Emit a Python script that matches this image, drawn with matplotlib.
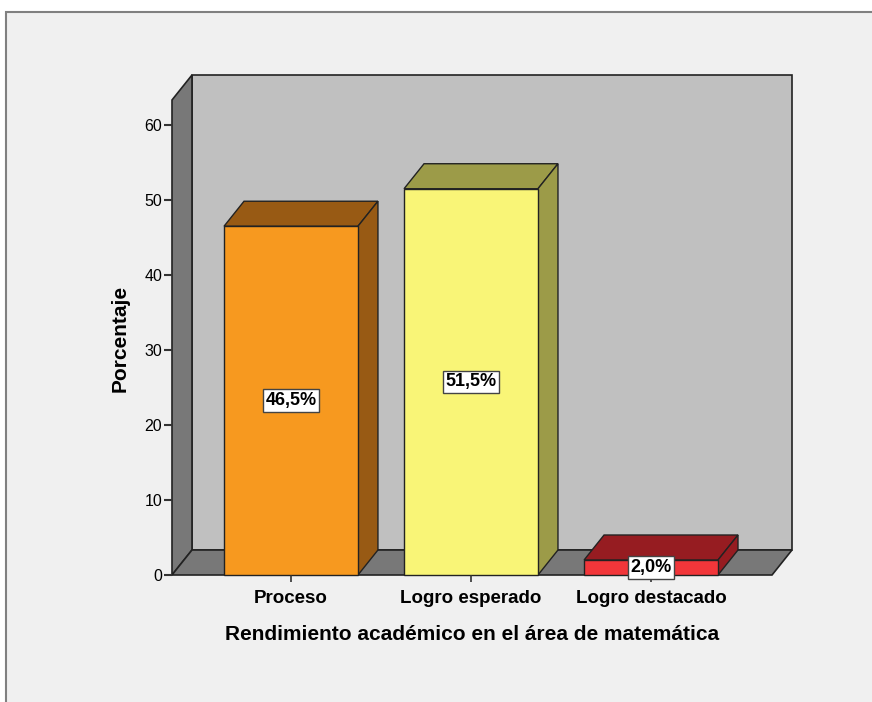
import matplotlib
matplotlib.use('Agg')
import matplotlib.pyplot as plt
from matplotlib.patches import Polygon, Rectangle

plt.rcParams['font.family'] = ['Liberation Sans', 'DejaVu Sans']

# data
categories = ['Proceso', 'Logro esperado', 'Logro destacado']
percentages = [46.5, 51.5, 2.0]
value_labels = ['46,5%', '51,5%', '2,0%']
front_colors = ['#f7991f', '#f9f577', '#f2363a']
side_colors = ['#985a14', '#9c9b48', '#961c21']
y_ticks = [0, 10, 20, 30, 40, 50, 60]

# 3d look (data units)
bar_w = 0.744
dx = 0.111
dy = 3.333
ymax = 63.33
x0, x1 = -0.661, 2.672
edge = '#222222'

fig = plt.figure(figsize=(8.72, 7.02), dpi=100)
fig.patch.set_facecolor('white')
frame = Rectangle((6 / 872, -0.05), 1.1, (702 - 12) / 702 + 0.05,
                  transform=fig.transFigure, facecolor='#f0f0f0',
                  edgecolor='#808080', linewidth=1.5, zorder=-10)
fig.add_artist(frame)

ax = fig.add_axes([172 / 872, (702 - 575) / 702, (792 - 172) / 872, (575 - 75) / 702])
ax.set_xlim(x0, x1 + dx)
ax.set_ylim(0, ymax + dy)
ax.patch.set_visible(False)
for s in ax.spines.values():
    s.set_visible(False)

# walls
back = Polygon([(x0 + dx, dy), (x1 + dx, dy), (x1 + dx, ymax + dy), (x0 + dx, ymax + dy)],
               facecolor='#c0c0c0', edgecolor=edge, linewidth=1.2, clip_on=False)
left = Polygon([(x0, 0), (x0 + dx, dy), (x0 + dx, ymax + dy), (x0, ymax)],
               facecolor='#787878', edgecolor=edge, linewidth=1.2, clip_on=False)
floor = Polygon([(x0, 0), (x1, 0), (x1 + dx, dy), (x0 + dx, dy)],
                facecolor='#787878', edgecolor=edge, linewidth=1.2, clip_on=False)
for p in (back, left, floor):
    ax.add_patch(p)

# bars
for i, (v, fc, sc, lab) in enumerate(zip(percentages, front_colors, side_colors, value_labels)):
    a, b = i - bar_w / 2, i + bar_w / 2
    top = Polygon([(a, v), (b, v), (b + dx, v + dy), (a + dx, v + dy)],
                  facecolor=sc, edgecolor=edge, linewidth=1, clip_on=False)
    side = Polygon([(b, 0), (b + dx, dy), (b + dx, v + dy), (b, v)],
                   facecolor=sc, edgecolor=edge, linewidth=1, clip_on=False)
    front = Rectangle((a, 0), bar_w, v, facecolor=fc, edgecolor=edge, linewidth=1, clip_on=False)
    for p in (top, side, front):
        ax.add_patch(p)
    ax.text(i, v / 2, lab, ha='center', va='center', fontsize=13, fontweight='bold',
            zorder=5, bbox=dict(boxstyle='square,pad=0.15', facecolor='white',
                                edgecolor='#444444', linewidth=1))

ax.set_yticks(y_ticks)
ax.set_yticklabels([str(t) for t in y_ticks], fontsize=11.5)
ax.set_xticks(range(len(categories)))
ax.set_xticklabels(categories, fontsize=13.5, fontweight='bold')
ax.tick_params(axis='y', length=6, width=1.5, color='#333333', pad=1)
ax.tick_params(axis='x', length=5, width=1.2, color='#333333', pad=6)
ax.set_xlabel('Rendimiento académico en el área de matemática', fontsize=15,
              fontweight='bold')
ax.xaxis.set_label_coords((472 - 172) / 620, -0.1)
ax.set_ylabel('Porcentaje', fontsize=15, fontweight='bold')
ax.yaxis.set_label_coords(-0.068, (575 - 338) / 500)

fig.savefig('out.png', dpi=100, facecolor=fig.get_facecolor())
